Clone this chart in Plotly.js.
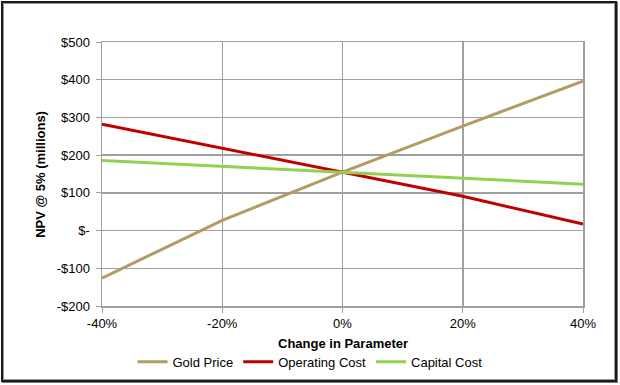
<!DOCTYPE html>
<html>
<head>
<meta charset="utf-8">
<script src="https://cdn.plot.ly/plotly-3.0.1.min.js"></script>
<style>
  html, body { margin: 0; padding: 0; background: #fff; }
  #frame { position: absolute; left: 1px; top: 1px; width: 612px; height: 377px;
           border: 2px solid #1a1a1a; box-shadow: inset 0 0 0 1px #9a9a9a, 1px 1px 0 #777; }
  #chart { position: absolute; left: 0; top: 0; width: 620px; height: 385px; }
</style>
</head>
<body>
<div id="frame"></div>
<div id="chart"></div>
<script>
const changePct = [-40, -20, 0, 20, 40];
const goldPrice = [-126, 27, 155, 277, 396];
const operatingCost = [282, 219, 155, 91, 17];
const capitalCost = [186, 170, 155, 138, 123];
const xTickVals = [-40, -20, 0, 20, 40];
const xTickText = ['-40%', '-20%', '0%', '20%', '40%'];
const yTickVals = [-200, -100, 0, 100, 200, 300, 400, 500];
const yTickText = ['-$200', '-$100', '$-', '$100', '$200', '$300', '$400', '$500'];
const xTitle = 'Change in Parameter';
const yTitle = 'NPV @ 5% (millions)';

const font = {family: 'Arial, "Liberation Sans", sans-serif', size: 13, color: '#000'};
const traces = [
  {x: changePct, y: goldPrice, name: 'Gold Price', mode: 'lines', line: {color: '#B39B64', width: 3}},
  {x: changePct, y: operatingCost, name: 'Operating Cost', mode: 'lines', line: {color: '#C00000', width: 3}},
  {x: changePct, y: capitalCost, name: 'Capital Cost', mode: 'lines', line: {color: '#92D050', width: 3}}
];
const layout = {
  width: 620, height: 385,
  paper_bgcolor: 'rgba(0,0,0,0)', plot_bgcolor: '#fff',
  margin: {l: 102, r: 37, t: 42, b: 79},
  font: font,
  showlegend: true,
  legend: {orientation: 'h', x: 0.5, xanchor: 'center', xref: 'container',
           y: 0.06, yanchor: 'middle', yref: 'container',
           font: font, itemwidth: 30, tracegroupgap: 0, bgcolor: 'rgba(0,0,0,0)'},
  xaxis: {range: [-40, 40], tickvals: xTickVals, ticktext: xTickText, automargin: false,
          showgrid: true, gridcolor: '#A0A0A0', gridwidth: 1.5,
          showline: true, linecolor: '#A0A0A0', linewidth: 1.5, mirror: true,
          ticks: 'outside', ticklen: 5, tickcolor: '#A0A0A0', zeroline: false,
          ticklabelstandoff: 0,
          tickfont: font},
  yaxis: {range: [-200, 500], tickvals: yTickVals, ticktext: yTickText, automargin: false,
          showgrid: true, gridcolor: '#A0A0A0', gridwidth: 1.5,
          showline: true, linecolor: '#A0A0A0', linewidth: 1.5, mirror: true,
          ticks: 'outside', ticklen: 5, tickcolor: '#A0A0A0', zeroline: false,
          ticklabelstandoff: 3,
          tickfont: font},
  annotations: [
    {text: '<b>' + xTitle + '</b>', xref: 'paper', yref: 'paper', x: 0.5, y: -37 / 264,
     xanchor: 'center', yanchor: 'middle', showarrow: false, font: font},
    {text: '<b>' + yTitle + '</b>', xref: 'paper', yref: 'paper', x: -62 / 480, y: 0.5,
     xanchor: 'center', yanchor: 'middle', textangle: -90, showarrow: false, font: font}
  ]
};
Plotly.newPlot('chart', traces, layout, {displayModeBar: false, staticPlot: true});
</script>
</body>
</html>
